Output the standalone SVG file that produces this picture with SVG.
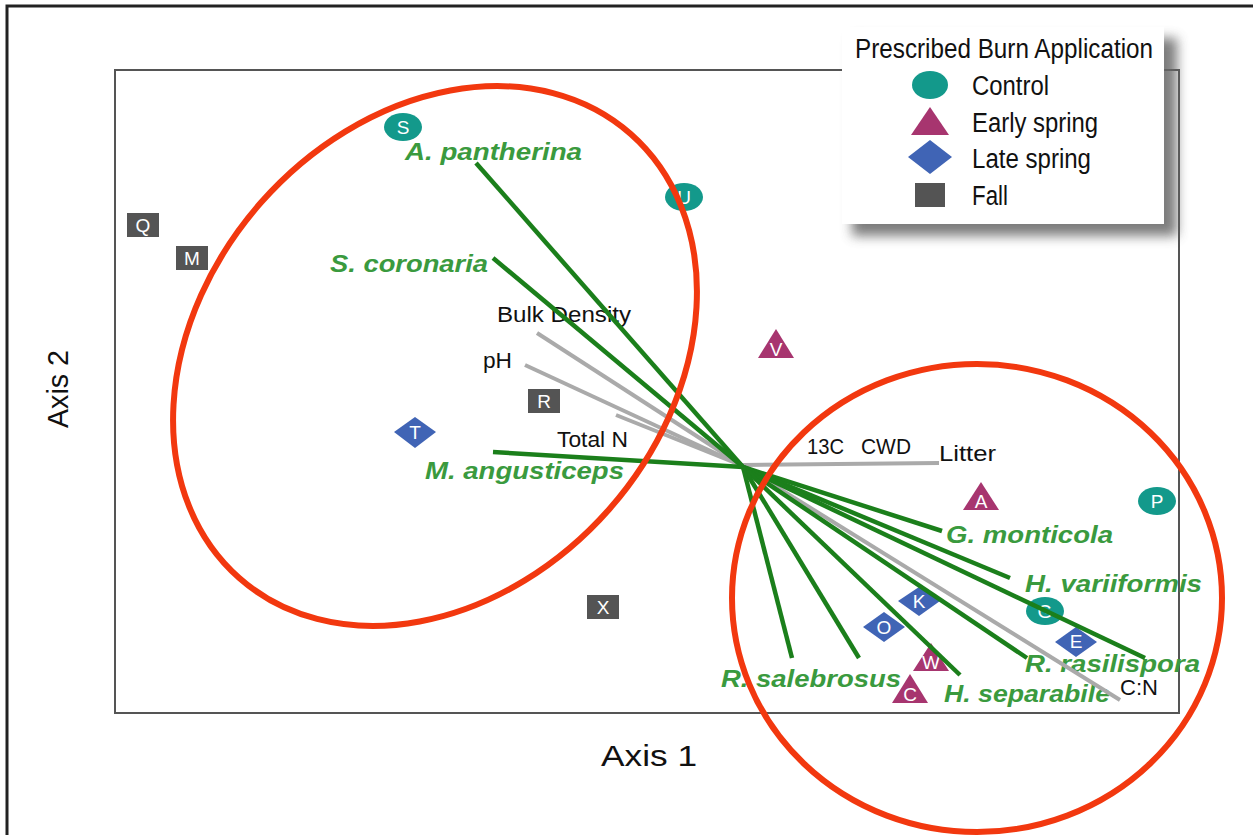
<svg xmlns="http://www.w3.org/2000/svg" width="1253" height="835" viewBox="0 0 1253 835">
<style>
.frame{fill:none;stroke:#222;stroke-width:3}
.plot{fill:none;stroke:#555;stroke-width:2}
.sp{font-family:"Liberation Sans",Arial,sans-serif;font-weight:bold;font-style:italic;font-size:24px;fill:#3a9a3e}
.env{font-family:"Liberation Sans",Arial,sans-serif;font-size:22px;fill:#111}
.ax{font-family:"Liberation Sans",Arial,sans-serif;font-size:30px;fill:#111}
.lg{font-family:"Liberation Sans",Arial,sans-serif;font-size:27px;fill:#111}
.ml{font-family:"Liberation Sans",Arial,sans-serif;font-size:19px;fill:#fff;text-anchor:middle}
.ctrl{fill:#13998b}
.early{fill:#a7356f}
.late{fill:#4064b5}
.fall{fill:#545454}
.gl{stroke:#1b7f1b;stroke-width:4.5;stroke-linecap:butt;fill:none}
.gy{stroke:#aaaaaa;stroke-width:4;fill:none}
.hull{fill:none;stroke:#f2380f;stroke-width:6}
</style>
<defs>
<filter id="sh" x="-20%" y="-20%" width="140%" height="140%"><feGaussianBlur stdDeviation="6"/></filter>
</defs>
<rect x="0" y="0" width="1253" height="835" fill="#fff"/>
<path class="frame" d="M7,835 V6 H1253"/>
<rect class="plot" x="115" y="70" width="1064" height="643"/>

<g id="axis-labels">
<text class="ax" x="601" y="766" textLength="96" lengthAdjust="spacingAndGlyphs">Axis 1</text>
<text class="ax" transform="translate(68,428) rotate(-90)" textLength="78" lengthAdjust="spacingAndGlyphs">Axis 2</text>
</g>

<g id="points">
<g id="pt-S"><ellipse class="ctrl" cx="403" cy="127" rx="19" ry="14"/><text class="ml" x="403" y="134">S</text></g>
<g id="pt-U"><ellipse class="ctrl" cx="684" cy="197" rx="19" ry="14"/><text class="ml" x="684" y="204">U</text></g>
<g id="pt-P"><ellipse class="ctrl" cx="1157" cy="501" rx="19" ry="14"/><text class="ml" x="1157" y="508">P</text></g>
<g id="pt-G"><ellipse class="ctrl" cx="1045" cy="611" rx="19" ry="14"/><text class="ml" x="1045" y="618">G</text></g>
<g id="pt-V"><polygon class="early" points="776,329 758,358 794,358"/><text class="ml" x="776" y="356">V</text></g>
<g id="pt-A"><polygon class="early" points="981,482 963,510 999,510"/><text class="ml" x="981" y="508">A</text></g>
<g id="pt-W"><polygon class="early" points="931,643 913,671 949,671"/><text class="ml" x="931" y="669">W</text></g>
<g id="pt-C"><polygon class="early" points="910,674 892,703 928,703"/><text class="ml" x="910" y="701">C</text></g>
<g id="pt-T"><polygon class="late" points="415,417 436,432 415,448 394,432"/><text class="ml" x="415" y="439">T</text></g>
<g id="pt-K"><polygon class="late" points="919,587 940,601 919,616 898,601"/><text class="ml" x="919" y="608">K</text></g>
<g id="pt-O"><polygon class="late" points="884,612 905,627 884,642 863,627"/><text class="ml" x="884" y="634">O</text></g>
<g id="pt-E"><polygon class="late" points="1076,627 1097,642 1076,657 1055,642"/><text class="ml" x="1076" y="648">E</text></g>
<g id="pt-Q"><rect class="fall" x="127" y="213" width="32" height="24"/><text class="ml" x="143" y="232">Q</text></g>
<g id="pt-M"><rect class="fall" x="176" y="246" width="32" height="24"/><text class="ml" x="192" y="265">M</text></g>
<g id="pt-R"><rect class="fall" x="528" y="389" width="32" height="24"/><text class="ml" x="544" y="408">R</text></g>
<g id="pt-X"><rect class="fall" x="587" y="595" width="32" height="24"/><text class="ml" x="603" y="614">X</text></g>
</g>

<g id="labels">
<text class="sp" x="405" y="160" textLength="177" lengthAdjust="spacingAndGlyphs">A. pantherina</text>
<text class="sp" x="330" y="272" textLength="158" lengthAdjust="spacingAndGlyphs">S. coronaria</text>
<text class="sp" x="425" y="479" textLength="199" lengthAdjust="spacingAndGlyphs">M. angusticeps</text>
<text class="sp" x="946" y="543" textLength="167" lengthAdjust="spacingAndGlyphs">G. monticola</text>
<text class="sp" x="1025" y="592" textLength="177" lengthAdjust="spacingAndGlyphs">H. variiformis</text>
<text class="sp" x="1025" y="672" textLength="175" lengthAdjust="spacingAndGlyphs">R. rasilispora</text>
<text class="sp" x="721" y="687" textLength="180" lengthAdjust="spacingAndGlyphs">R. salebrosus</text>
<text class="sp" x="944" y="702" textLength="166" lengthAdjust="spacingAndGlyphs">H. separabile</text>
<text class="env" x="497" y="322" textLength="134" lengthAdjust="spacingAndGlyphs">Bulk Density</text>
<text class="env" x="483" y="368" textLength="29" lengthAdjust="spacingAndGlyphs">pH</text>
<text class="env" x="557" y="447" textLength="71" lengthAdjust="spacingAndGlyphs">Total N</text>
<text class="env" x="807" y="454" textLength="37" lengthAdjust="spacingAndGlyphs">13C</text>
<text class="env" x="861" y="454" textLength="50" lengthAdjust="spacingAndGlyphs">CWD</text>
<text class="env" x="939" y="461" textLength="57" lengthAdjust="spacingAndGlyphs">Litter</text>
<text class="env" x="1120" y="695" textLength="38" lengthAdjust="spacingAndGlyphs">C:N</text>
</g>

<g id="connectors">
<line class="gy" x1="743" y1="466" x2="537" y2="333"/>
<line class="gy" x1="743" y1="466" x2="525" y2="365"/>
<line class="gy" x1="743" y1="466" x2="616" y2="415"/>
<line class="gy" x1="743" y1="465" x2="939" y2="463"/>
<line class="gy" x1="743" y1="466" x2="1120" y2="700"/>
<line class="gl" x1="743" y1="467" x2="476" y2="163"/>
<line class="gl" x1="743" y1="467" x2="493" y2="258"/>
<line class="gl" x1="743" y1="467" x2="493" y2="452"/>
<line class="gl" x1="743" y1="467" x2="942" y2="531"/>
<line class="gl" x1="743" y1="467" x2="1010" y2="578"/>
<line class="gl" x1="743" y1="467" x2="1145" y2="658"/>
<line class="gl" x1="743" y1="467" x2="1027" y2="658"/>
<line class="gl" x1="743" y1="467" x2="960" y2="675"/>
<line class="gl" x1="743" y1="467" x2="859" y2="658"/>
<line class="gl" x1="743" y1="467" x2="792" y2="658"/>
</g>

<g id="hulls">
<ellipse class="hull" cx="435" cy="356" rx="296" ry="232" transform="rotate(-48.6 435 356)"/>
<ellipse class="hull" cx="977" cy="598" rx="245" ry="234"/>
</g>

<g id="legend">
<rect x="852" y="38" width="325" height="198" fill="#666" opacity="0.85" filter="url(#sh)"/>
<rect x="842" y="27" width="322" height="197" fill="#fff"/>
<text class="lg" x="855" y="58" font-size="30" textLength="298" lengthAdjust="spacingAndGlyphs">Prescribed Burn Application</text>
<ellipse class="ctrl" cx="930" cy="85" rx="18" ry="14"/>
<text class="lg" x="972" y="95" textLength="77" lengthAdjust="spacingAndGlyphs">Control</text>
<polygon class="early" points="930,107 911,135 949,135"/>
<text class="lg" x="972" y="132" textLength="126" lengthAdjust="spacingAndGlyphs">Early spring</text>
<polygon class="late" points="930,140 952,157 930,174 908,157"/>
<text class="lg" x="972" y="168" textLength="119" lengthAdjust="spacingAndGlyphs">Late spring</text>
<rect class="fall" x="915" y="183" width="30" height="24"/>
<text class="lg" x="972" y="205" textLength="36" lengthAdjust="spacingAndGlyphs">Fall</text>
</g>
</svg>
